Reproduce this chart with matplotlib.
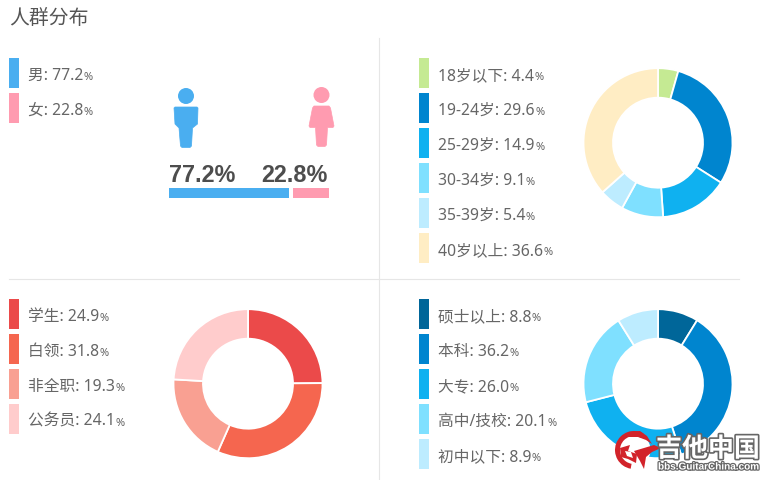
import matplotlib
matplotlib.use("Agg")
import matplotlib.pyplot as plt
from matplotlib.patches import Circle, Polygon, Rectangle, Wedge
import matplotlib.patheffects as pe

plt.rcParams['font.family'] = ['Noto Sans', 'Noto Sans CJK SC', 'DejaVu Sans']

# Data
title = "人群分布"

gender_names = ["男", "女"]
gender_values = [77.2, 22.8]
gender_colors = ["#4aaef0", "#ff9bb0"]

age_names = ["18岁以下", "19-24岁", "25-29岁", "30-34岁", "35-39岁", "40岁以上"]
age_values = [4.4, 29.6, 14.9, 9.1, 5.4, 36.6]
age_colors = ["#c5ea93", "#0085cf", "#0fb1f0", "#7fe0ff", "#bdecff", "#ffedc4"]

job_names = ["学生", "白领", "非全职", "公务员"]
job_values = [24.9, 31.8, 19.3, 24.1]
job_colors = ["#eb4a4a", "#f5664f", "#f9a092", "#ffcccc"]

edu_names = ["硕士以上", "本科", "大专", "高中/技校", "初中以下"]
edu_values = [8.8, 36.2, 26.0, 20.1, 8.9]
edu_colors = ["#006699", "#0085cf", "#0fb1f0", "#7fe0ff", "#bdecff"]

W, H = 768, 481
TEXT = "#666666"

fig = plt.figure(figsize=(W / 100, H / 100), dpi=100, facecolor="white")

# Full-figure axes working in pixels, for the layout pieces
bg = fig.add_axes([0, 0, 1, 1])
bg.set_xlim(0, W)
bg.set_ylim(H, 0)
bg.axis("off")

renderer = fig.canvas.get_renderer()


def px_axes(x0, y0, x1, y1):
    return fig.add_axes([x0 / W, 1 - y1 / H, (x1 - x0) / W, (y1 - y0) / H])


def legend(names, values, colors, x, y):
    for i, (n, v, c) in enumerate(zip(names, values, colors)):
        top = y + i * 35
        bg.add_patch(Rectangle((x, top), 10, 30, fc=c, ec="none"))
        t = bg.text(x + 19, top + 21, "%s: %.1f" % (n, v), fontsize=11.3,
                    color=TEXT, va="baseline", ha="left")
        ext = t.get_window_extent(renderer)
        bg.text(ext.x1 + 0.5, top + 21, "%", fontsize=8, color=TEXT,
                va="baseline", ha="left")


def donut(values, colors, cx, cy, r=74.5, r_in=45):
    ax = px_axes(cx - r, cy - r, cx + r, cy + r)
    ax.pie(values, colors=colors, startangle=90, counterclock=False, radius=1.0,
           wedgeprops=dict(width=(r - r_in) / r, edgecolor="white", linewidth=1.3))
    ax.set_xlim(-1, 1)
    ax.set_ylim(-1, 1)
    ax.patch.set_alpha(0)
    return ax


bg.text(9, 23.5, title, fontsize=14.3, color="#555555", va="baseline", ha="left")

# Dividers
bg.plot([379.2, 379.2], [39, 481], color="#e6e6e6", lw=0.8)
bg.plot([9, 739], [279.5, 279.5], color="#e6e6e6", lw=0.8)

legend(gender_names, gender_values, gender_colors, 9, 59)
legend(age_names, age_values, age_colors, 419, 59)
legend(job_names, job_values, job_colors, 9, 300)
legend(edu_names, edu_values, edu_colors, 419, 300)

donut(age_values, age_colors, 658, 143.7)
donut(job_values, job_colors, 248, 384.7)
donut(edu_values, edu_colors, 658, 384.7)

# Gender bar
gap = 2.56
bar = px_axes(169, 189, 329, 199)
bar.barh(0, gender_values[0], height=1, color=gender_colors[0])
bar.barh(0, gender_values[1], height=1, left=gender_values[0] + gap, color=gender_colors[1])
bar.set_xlim(0, 100 + gap)
bar.set_ylim(-0.5, 0.5)
bar.axis("off")

for x, v in zip([169, 261], gender_values):
    bg.text(x, 182.5, "%.1f%%" % v, family="Liberation Sans", weight="bold",
            fontsize=16.8, color="#4d4d4d", va="baseline", ha="left")

# Person icons
bg.add_patch(Circle((186, 97), 8, fc=gender_colors[0], ec="none"))
bg.add_patch(Polygon([(175, 108), (197, 108), (198, 109), (197.5, 125), (192.5, 129),
                      (191.5, 147), (190, 148.5), (182, 148.5), (180.5, 147),
                      (179, 129), (175, 125), (174, 109)],
                     closed=True, fc=gender_colors[0], ec=gender_colors[0], lw=0.5, joinstyle="round"))
bg.add_patch(Circle((321.5, 96), 8, fc=gender_colors[1], ec="none"))
bg.add_patch(Polygon([(314, 107), (329, 107), (330.5, 109), (334, 127), (333, 128.5),
                      (327.5, 128.5), (326.5, 146), (325, 147.5), (318, 147.5), (316.5, 146),
                      (315.5, 128.5), (310, 128.5), (309, 127), (312.5, 109)],
                     closed=True, fc=gender_colors[1], ec=gender_colors[1], lw=0.5, joinstyle="round"))

# Watermark drawn on top of everything
top = fig.add_axes([0, 0, 1, 1], zorder=10)
top.set_xlim(0, W)
top.set_ylim(H, 0)
top.axis("off")
top.patch.set_alpha(0)

# rough dragon logo
red = "#d2232a"
top.add_patch(Circle((633, 451), 17.5, fc="white", ec="none"))
top.add_patch(Wedge((634, 451), 19, 100, 300, width=5, fc=red, ec="none"))
top.add_patch(Polygon([(628, 433), (640, 432), (647, 437), (652, 445), (646, 441), (638, 438), (629, 438)],
                      closed=True, fc=red, ec="none"))
top.add_patch(Polygon([(634, 452), (654, 446), (661, 449), (652, 453), (646, 458), (644, 470), (640, 462)],
                      closed=True, fc=red, ec="none"))
top.add_patch(Polygon([(620, 449), (630, 446), (628, 452), (637, 455), (636, 464), (628, 460), (621, 458)],
                      closed=True, fc=red, ec="none"))
top.add_patch(Polygon([(625, 452), (631, 453), (633, 459), (627, 457)], closed=True, fc="white", ec="none"))

top.text(656, 457.5, "吉他中国", fontsize=18.7, weight="bold", color="white",
         va="baseline", ha="left", path_effects=[pe.withStroke(linewidth=2.4, foreground="#666666")])
top.text(658, 470.5, "bbs.GuitarChina.com", family="Liberation Sans", weight="bold",
         fontsize=7.2, color="white", va="baseline", ha="left",
         path_effects=[pe.withStroke(linewidth=1.8, foreground="#666666")])

fig.savefig("out.png", dpi=100, facecolor="white")
